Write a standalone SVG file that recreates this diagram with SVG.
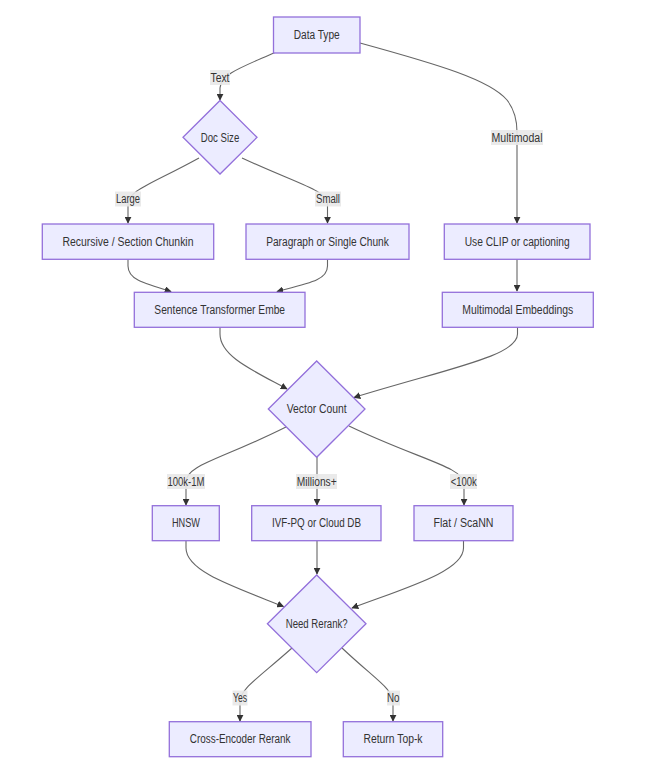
<svg xmlns="http://www.w3.org/2000/svg" width="671" height="782" viewBox="0 0 671 782">
<defs>
<style>
.node rect,.node polygon{fill:#ECECFF;stroke:#9370DB;stroke-width:1.3}
text{font-family:"Liberation Sans",Arial,sans-serif;font-size:12px;fill:#333;text-anchor:middle}
.edges path{fill:none;stroke:#666;stroke-width:1.1}
.lbl rect{fill:#e8e8e8;opacity:0.9}
</style>
<marker id="arr" viewBox="0 0 10 10" refX="9" refY="5" markerWidth="7" markerHeight="7" markerUnits="userSpaceOnUse" orient="auto">
<path d="M0,0 L10,5 L0,10 z" fill="#333"/>
</marker>
</defs>
<rect width="671" height="782" fill="#fff"/>

<g class="edges" id="edges">
<path marker-end="url(#arr)" d="M276,52 C240,68 221,74 220,88 L220,100"/>
<path marker-end="url(#arr)" d="M360,43 C440,65 490,80 507,100 C514,109 517,118 517,132 L517,223"/>
<path marker-end="url(#arr)" d="M199,158 C150,185 128,190 128,205 L128,223"/>
<path marker-end="url(#arr)" d="M242,158 C300,185 327.5,190 327.5,205 L327.5,223"/>
<path marker-end="url(#arr)" d="M517,259 L517,291"/>
<path marker-end="url(#arr)" d="M128,259 L128,266 C128,279 142,283 171,291.5"/>
<path marker-end="url(#arr)" d="M327.5,259 L327.5,266 C327.5,280 310,283 277,291.5"/>
<path marker-end="url(#arr)" d="M220,327 L220,334 C220,356 252,370 287,389"/>
<path marker-end="url(#arr)" d="M517.5,327 L517.5,334 C517.5,356 450,368 354,397.5"/>
<path marker-end="url(#arr)" d="M286,427 C220,460 186,465 186,482 L186,505"/>
<path marker-end="url(#arr)" d="M317,457 L317,505"/>
<path marker-end="url(#arr)" d="M349,426 C420,460 464,467 464,484 L464,505"/>
<path marker-end="url(#arr)" d="M186,541 L186,548 C186,571 232,586 283.5,606.5"/>
<path marker-end="url(#arr)" d="M317,541 L317,574"/>
<path marker-end="url(#arr)" d="M463.5,541 L463.5,548 C463.5,571 408,587 352,608"/>
<path marker-end="url(#arr)" d="M292,648 C256,680 240,689 240,702 L240,721"/>
<path marker-end="url(#arr)" d="M342,648 C376,680 393,689 393,702 L393,721"/>
</g>

<g id="edge-labels">
<g class="lbl"><rect x="210" y="70" width="20" height="15"/><text x="220" y="81.5" textLength="19" lengthAdjust="spacingAndGlyphs">Text</text></g>
<g class="lbl"><rect x="491" y="130" width="52" height="15"/><text x="517" y="141.5" textLength="51" lengthAdjust="spacingAndGlyphs">Multimodal</text></g>
<g class="lbl"><rect x="115" y="191.5" width="26" height="15"/><text x="128" y="203" textLength="24" lengthAdjust="spacingAndGlyphs">Large</text></g>
<g class="lbl"><rect x="315" y="191.5" width="26" height="15"/><text x="328" y="203" textLength="24" lengthAdjust="spacingAndGlyphs">Small</text></g>
<g class="lbl"><rect x="167" y="474" width="38" height="15"/><text x="186" y="485.5" textLength="37" lengthAdjust="spacingAndGlyphs">100k-1M</text></g>
<g class="lbl"><rect x="296" y="474" width="41" height="15"/><text x="316.7" y="485.5" textLength="40" lengthAdjust="spacingAndGlyphs">Millions+</text></g>
<g class="lbl"><rect x="450" y="474" width="27" height="15"/><text x="463.7" y="485.5" textLength="26" lengthAdjust="spacingAndGlyphs">&lt;100k</text></g>
<g class="lbl"><rect x="232.5" y="690.5" width="15" height="15"/><text x="240" y="702" textLength="14" lengthAdjust="spacingAndGlyphs">Yes</text></g>
<g class="lbl"><rect x="387" y="690.5" width="13" height="15"/><text x="393.3" y="702" textLength="12.5" lengthAdjust="spacingAndGlyphs">No</text></g>
</g>

<g class="node" id="data-type"><rect x="273.5" y="17" width="86.5" height="36"/><text x="316.7" y="39" textLength="46" lengthAdjust="spacingAndGlyphs">Data Type</text></g>
<g class="node" id="doc-size"><polygon points="220,100.5 257,137.3 220,174 183,137.3"/><text x="220" y="141.5" textLength="38.5" lengthAdjust="spacingAndGlyphs">Doc Size</text></g>
<g class="node" id="recursive"><rect x="42.3" y="224" width="171.4" height="35.3"/><text x="128" y="245.8" textLength="131" lengthAdjust="spacingAndGlyphs">Recursive / Section Chunkin</text></g>
<g class="node" id="paragraph"><rect x="246" y="224" width="163" height="35.3"/><text x="327.5" y="245.8" textLength="122.7" lengthAdjust="spacingAndGlyphs">Paragraph or Single Chunk</text></g>
<g class="node" id="clip"><rect x="444.3" y="224" width="145.7" height="35.3"/><text x="517.2" y="245.8" textLength="105" lengthAdjust="spacingAndGlyphs">Use CLIP or captioning</text></g>
<g class="node" id="sentence"><rect x="134.3" y="292.3" width="170.7" height="35"/><text x="219.7" y="314" textLength="130.7" lengthAdjust="spacingAndGlyphs">Sentence Transformer Embe</text></g>
<g class="node" id="mm-emb"><rect x="442.3" y="292.3" width="151" height="35"/><text x="517.8" y="314" textLength="111" lengthAdjust="spacingAndGlyphs">Multimodal Embeddings</text></g>
<g class="node" id="vector-count"><polygon points="316.7,361 365,409 316.7,457.3 268.3,409"/><text x="316.7" y="413" textLength="60" lengthAdjust="spacingAndGlyphs">Vector Count</text></g>
<g class="node" id="hnsw"><rect x="152.3" y="505.7" width="67" height="35"/><text x="186" y="527.3" textLength="28" lengthAdjust="spacingAndGlyphs">HNSW</text></g>
<g class="node" id="ivf"><rect x="251.7" y="505.7" width="129.3" height="35"/><text x="316.5" y="527.3" textLength="89" lengthAdjust="spacingAndGlyphs">IVF-PQ or Cloud DB</text></g>
<g class="node" id="flat"><rect x="414" y="505.7" width="99" height="35"/><text x="463.5" y="527.3" textLength="60" lengthAdjust="spacingAndGlyphs">Flat / ScaNN</text></g>
<g class="node" id="need-rerank"><polygon points="316.7,575 366,623.8 316.7,672.6 267.4,623.8"/><text x="316.7" y="628" textLength="62" lengthAdjust="spacingAndGlyphs">Need Rerank?</text></g>
<g class="node" id="cross-encoder"><rect x="169.3" y="721.7" width="141.7" height="35"/><text x="240.2" y="743.3" textLength="100.7" lengthAdjust="spacingAndGlyphs">Cross-Encoder Rerank</text></g>
<g class="node" id="return-topk"><rect x="343.3" y="721.7" width="99.4" height="35"/><text x="393" y="743.3" textLength="59" lengthAdjust="spacingAndGlyphs">Return Top-k</text></g>
</svg>
